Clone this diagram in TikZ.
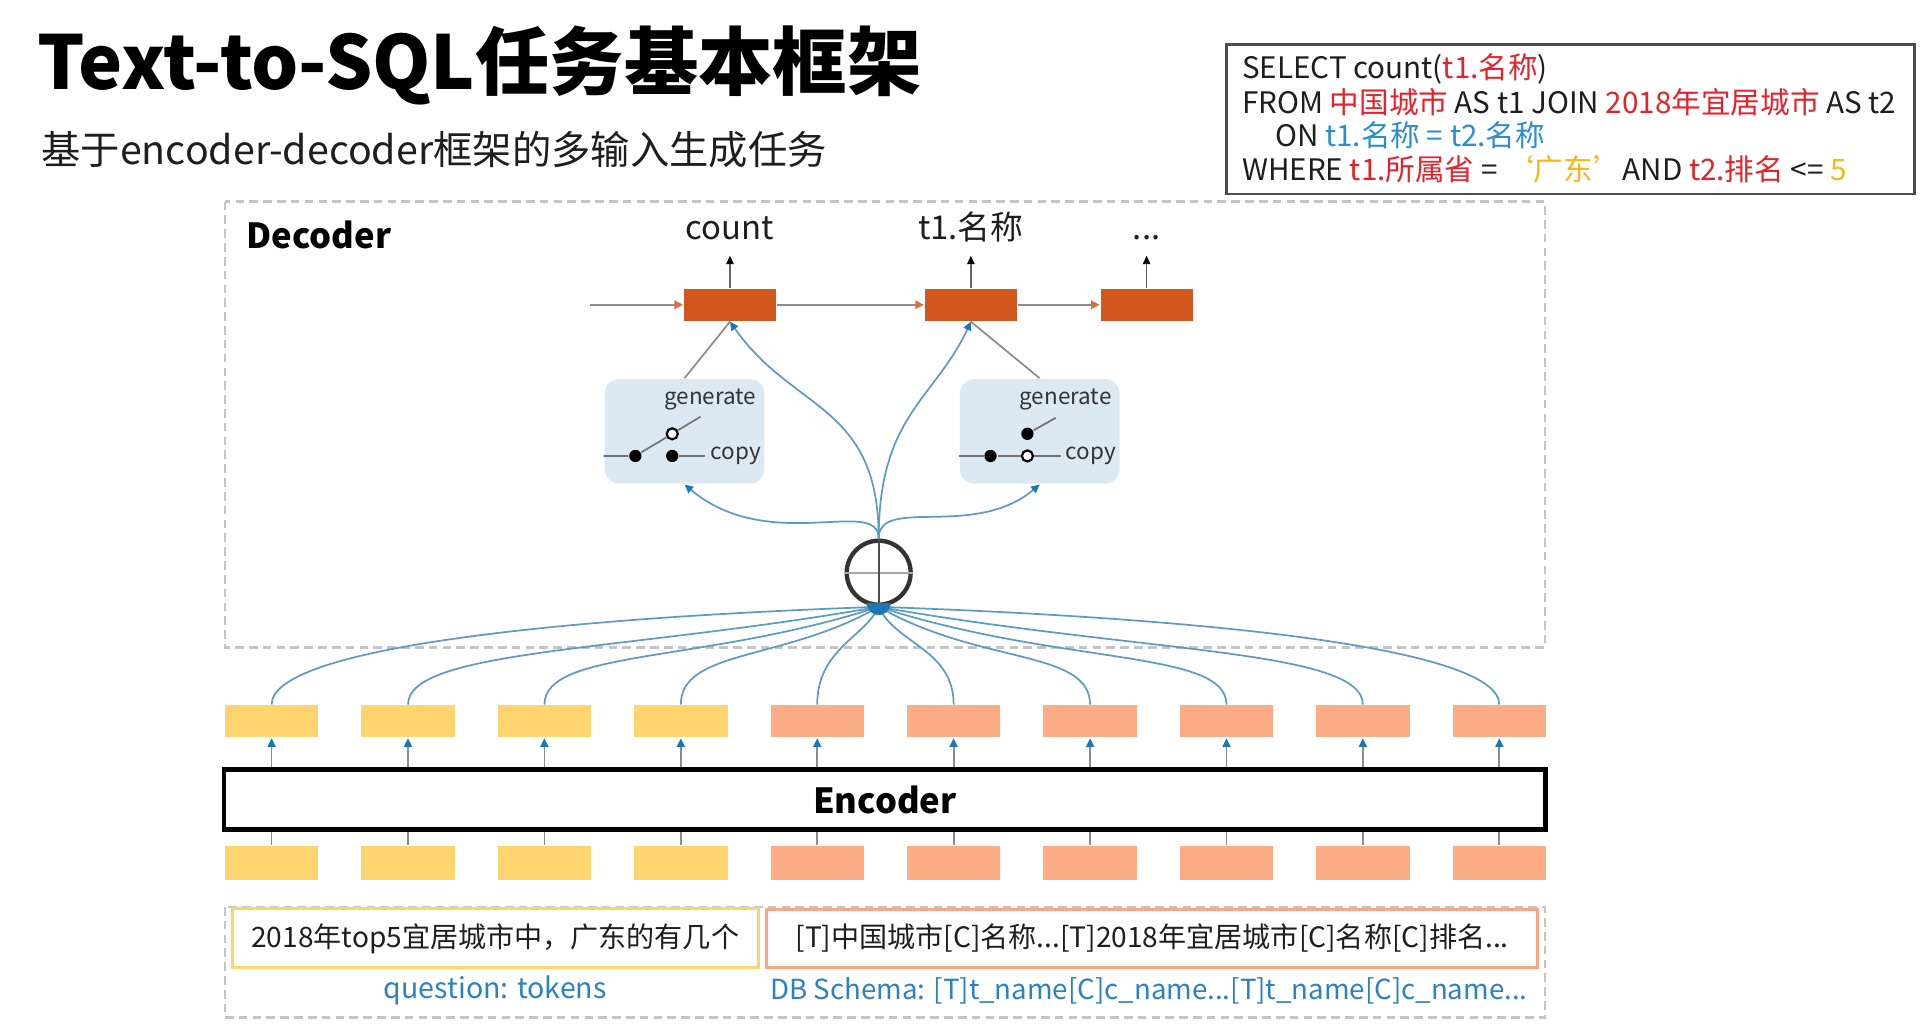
\documentclass[tikz,border=0pt]{standalone}
\usepackage{fontspec}
\setmainfont{Noto Sans CJK SC}
\usetikzlibrary{calc}
\usetikzlibrary{arrows.meta}
\usetikzlibrary{positioning}

\definecolor{cellred}{HTML}{D2571E}
\definecolor{cellyel}{HTML}{FDD46E}
\definecolor{cellsal}{HTML}{FCAD86}
\definecolor{gatebg}{HTML}{DCE9F3}
\definecolor{tipblue}{HTML}{1C78B4}
\definecolor{curveblue}{HTML}{5C9BC2}
\definecolor{dashgray}{HTML}{C4C4C4}
\definecolor{sqlred}{HTML}{E62129}
\definecolor{sqlblue}{HTML}{2C8ED2}
\definecolor{sqlyel}{HTML}{F6B717}
\definecolor{lblblue}{HTML}{2A82C4}
\definecolor{qborder}{HTML}{FBD46C}
\definecolor{sborder}{HTML}{F7A784}
\definecolor{inktext}{HTML}{1E1E1E}

\tikzset{
  fs/.style={font=\fontsize{#1}{#1}\selectfont},
  bluetip/.style={-{Triangle[length=0.07cm, width=0.065cm, color=tipblue]}},
}

\begin{document}
\begin{tikzpicture}[x=0.01cm, y=-0.01cm, text=inktext,
    deccell/.style={fill=cellred, minimum width=0.75cm, minimum height=0.26cm, inner sep=0pt},
    qcell/.style={fill=cellyel, minimum width=0.76cm, minimum height=#1, inner sep=0pt},
    scell/.style={fill=cellsal, minimum width=0.76cm, minimum height=#1, inner sep=0pt},
    dashbox/.style={draw=dashgray, line width=0.6pt, dash pattern=on 2pt off 1.2pt},
    gatebox/.style={fill=gatebg, rounded corners=0.12cm, minimum width=1.3cm, minimum height=0.85cm},
    fdot/.style={circle, fill=black, minimum size=0.1cm, inner sep=0pt},
    odot/.style={circle, draw=black, fill=white, line width=0.5pt, minimum size=0.09cm, inner sep=0pt},
    swline/.style={draw=black!55, line width=0.4pt},
    attn/.style={draw=curveblue, line width=0.4pt},
    grayline/.style={draw=black!45, line width=0.4pt},
    outlbl/.style={anchor=south, text depth=0pt, inner ysep=3.5pt, fs=7.6},
    sqltext/.style={anchor=base west, inner sep=0pt, fs=6.85},
    inbox/.style={line width=0.7pt, minimum height=0.39cm, inner xsep=1pt, fs=6.5},
  ]
  \useasboundingbox (0,0) rectangle (1568,836);

  % title and subtitle
  \node[anchor=base west, inner sep=0pt, font=\bfseries\fontsize{17.2}{20}\selectfont, text=black] (title) at (30,73) {Text-to-SQL任务基本框架};
  \node[anchor=base west, inner sep=0pt, fs=9.1] (subtitle) at (33,134) {基于encoder-decoder框架的多输入生成任务};

  % target SQL
  \draw[black!70, line width=0.6pt] (998,36) rectangle (1558,158);
  \node[sqltext] (sql1) at (1010,64) {SELECT count(\textcolor{sqlred}{t1.名称})};
  \node[sqltext] (sql2) at (1010,92) {FROM \textcolor{sqlred}{中国城市} AS t1 JOIN \textcolor{sqlred}{2018年宜居城市} AS t2};
  \node[sqltext] (sql3) at (1037,119) {ON \textcolor{sqlblue}{t1.名称 = t2.名称}};
  \node[sqltext] (sql4) at (1010,147) {WHERE \textcolor{sqlred}{t1.所属省} = \textcolor{sqlyel}{‘广东’}AND \textcolor{sqlred}{t2.排名} <= \textcolor{sqlyel}{5}};

  % decoder
  \draw[dashbox] (183,164) rectangle (1257,527);
  \node[anchor=base west, inner sep=0pt, font=\bfseries\fontsize{8}{10}\selectfont, text=black] (declbl) at (200,202) {Decoder};

  \node[deccell] (d1) at (594,248) {};
  \node[deccell] (d2) at (790,248) {};
  \node[deccell] (d3) at (933,248) {};
  \coordinate (din) at (480,248);
  \draw[grayline, -{Triangle[length=0.07cm, width=0.07cm, color=cellred!85]}] (din) -- (d1);
  \draw[grayline, -{Triangle[length=0.07cm, width=0.07cm, color=cellred!85]}] (d1) -- (d2);
  \draw[grayline, -{Triangle[length=0.07cm, width=0.07cm, color=cellred!85]}] (d2) -- (d3);

  \node[outlbl] (o1) at (594,208) {count};
  \node[outlbl] (o2) at (790,208) {t1.名称};
  \node[outlbl] (o3) at (933,208) {...};
  \foreach \i in {1,2,3}
    \draw[black!60, line width=0.4pt, -{Triangle[length=0.07cm, width=0.06cm, color=black]}] (d\i.north) -- (o\i.south);

  % copy / generate gates
  \node[gatebox] (g1) at (557,351) {};
  \node[fs=5.2, text=black!80] (gen1) at (578,325) {generate};
  \node[fdot] (g1a) at (517,371) {};
  \node[odot] (g1o) at (547,353) {};
  \node[fdot] (g1b) at (547,371) {};
  \node[fs=5.2, text=black!80, anchor=west, inner sep=1pt] (copy1) at (574,371) {copy};
  \coordinate (g1t) at (570,339);
  \draw[swline] (g1.west |- g1a) -- (g1a) -- (g1o) -- (g1t);
  \draw[swline] (g1b) -- (copy1);

  \node[gatebox] (g2) at (846,351) {};
  \node[fs=5.2, text=black!80] (gen2) at (867,325) {generate};
  \node[fdot] (g2a) at (806,371) {};
  \node[odot] (g2o) at (836,371) {};
  \node[fdot] (g2b) at (836,353) {};
  \node[fs=5.2, text=black!80, anchor=west, inner sep=1pt] (copy2) at (863,371) {copy};
  \coordinate (g2t) at (859,340);
  \draw[swline] (g2.west |- g2a) -- (g2a) -- (g2o) -- (copy2);
  \draw[swline] (g2b) -- (g2t);

  % sum node
  \node[circle, draw=black!80, line width=1pt, minimum size=0.52cm, inner sep=0pt] (sum) at (715,466) {};
  \draw[black!35, line width=0.5pt] (sum.west) -- (sum.east);
  \draw[black!70, line width=0.5pt] (sum.north) -- (sum.south);

  \draw[grayline] (g1.north) -- (d1.south);
  \draw[grayline] (g2.north) -- (d2.south);
  \draw[attn, bluetip] (sum.north) to[out=90, in=-55, out distance=1.1cm, in distance=0.9cm] (d1.south);
  \draw[attn, bluetip] (sum.north) to[out=90, in=-115, out distance=1.0cm, in distance=0.7cm] (d2.south);
  \draw[attn, bluetip] (sum.north) to[out=90, in=-40, out distance=0.35cm, in distance=0.9cm] (g1.south);
  \draw[attn, bluetip] (sum.north) to[out=90, in=-140, out distance=0.35cm, in distance=0.7cm] (g2.south);

  % encoder
  \node[draw=black, line width=1.1pt, minimum width=10.75cm, minimum height=0.49cm, inner sep=0pt,
        font=\bfseries\fontsize{8}{10}\selectfont, text=black] (enc) at (720,650.5) {Encoder};

  \foreach \i in {0,...,3} {
    \node[qcell=0.26cm] (hid\i) at (221+111*\i,587) {};
    \node[qcell=0.28cm] (emb\i) at (221+111*\i,702) {};
  }
  \foreach \i in {4,...,9} {
    \node[scell=0.26cm] (hid\i) at (221+111*\i,587) {};
    \node[scell=0.28cm] (emb\i) at (221+111*\i,702) {};
  }
  \foreach \i in {0,...,9} {
    \draw[grayline] (emb\i.north) -- (emb\i.north |- enc.south);
    \draw[grayline, bluetip] (hid\i.south |- enc.north) -- (hid\i.south);
  }

  % attention over encoder states
  \foreach \i/\a in {0/182,1/190,2/198,3/210,4/245,5/295,6/330,7/342,8/350,9/358} {
    \pgfmathsetmacro\dd{0.0055*abs(221+111*\i-715)}
    \draw[attn] (hid\i.north) to[out=90, in=\a, out distance=0.45cm, in distance=\dd cm] (sum.south);
  }
  \fill[tipblue] ($(sum.south)+(-10,-3)$) .. controls ($(sum.south)+(-8,10)$) and ($(sum.south)+(8,10)$) .. ($(sum.south)+(10,-3)$) -- cycle;

  % inputs
  \draw[dashbox] (183,738) rectangle (1257,828);
  \node[inbox, draw=qborder, minimum width=4.28cm] (qbox) at (403,763.5) {2018年top5宜居城市中，广东的有几个};
  \node[inbox, draw=sborder, minimum width=6.27cm] (sbox) at (937.5,763.5) {[T]中国城市[C]名称...[T]2018年宜居城市[C]名称[C]排名...};
  \node[text=lblblue, fs=6.6] (qlbl) at (403,806) {question: tokens};
  \node[text=lblblue, fs=6.4] (slbl) at (935,806) {DB Schema: [T]t\_name[C]c\_name...[T]t\_name[C]c\_name...};
\end{tikzpicture}
\end{document}
